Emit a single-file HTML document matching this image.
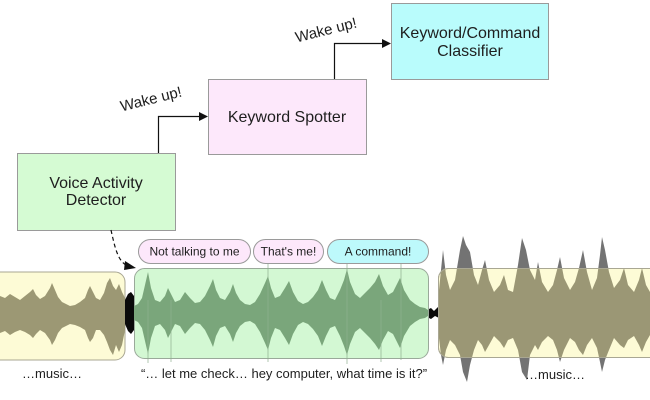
<!DOCTYPE html>
<html><head><meta charset="utf-8"><style>
html,body{margin:0;padding:0;background:#fff;}
svg{display:block;}
text{font-family:"Liberation Sans",Arial,sans-serif;fill:#1e1e1e;}
</style></head><body>
<svg width="650" height="400" viewBox="0 0 650 400" xmlns="http://www.w3.org/2000/svg">
<defs>
<clipPath id="rbox"><rect x="438" y="268" width="230" height="89" rx="10"/></clipPath>
<marker id="ah" markerWidth="10" markerHeight="10" refX="8" refY="4" orient="auto" markerUnits="userSpaceOnUse"><path d="M0,0 L9,4 L0,8 Z" fill="#111"/></marker>
</defs>

<!-- top boxes -->
<rect x="17.5" y="153.5" width="158" height="77" fill="#d5fbd3" stroke="#9a9a9a" stroke-width="1"/>
<text x="96" y="188" font-size="16" text-anchor="middle">Voice Activity</text>
<text x="96" y="205" font-size="16" text-anchor="middle">Detector</text>

<rect x="208.5" y="79.5" width="158" height="75" fill="#fde8fb" stroke="#9a9a9a" stroke-width="1"/>
<text x="287" y="122" font-size="16" text-anchor="middle">Keyword Spotter</text>

<rect x="391.5" y="3.5" width="157" height="76" fill="#b9fcfc" stroke="#9a9a9a" stroke-width="1"/>
<text x="470" y="38" font-size="16" text-anchor="middle">Keyword/Command</text>
<text x="470" y="56" font-size="16" text-anchor="middle">Classifier</text>

<!-- arrows -->
<path d="M158.5,153 V116.5 H200" fill="none" stroke="#111" stroke-width="1.2"/>
<polygon points="199,112 208,116.5 199,121" fill="#111"/>
<path d="M334.5,79 V43.5 H383" fill="none" stroke="#111" stroke-width="1.2"/>
<polygon points="382,39 391,43.5 382,48" fill="#111"/>

<text x="151" y="104" font-size="15" text-anchor="middle" transform="rotate(-14 151 99)">Wake up!</text>
<text x="326" y="35" font-size="15" text-anchor="middle" transform="rotate(-14 326 30)">Wake up!</text>

<!-- dashed arrow -->
<path d="M111,230 C115,248 118,262 128,266" fill="none" stroke="#111" stroke-width="1.2" stroke-dasharray="4,3"/>
<polygon points="125,261 136,268 124,270" fill="#111"/>

<!-- left yellow box -->
<rect x="-12" y="272" width="137" height="88" rx="10" fill="#fdfbd6" stroke="#a9a793" stroke-width="1"/>
<polygon fill="#9c9874" points="0,296 5,298 10,294 15,297 20,300 25,296 30,292 33,289 36,295 40,299 45,296 50,288 52,283 55,290 58,297 62,302 66,304 70,306 75,305 80,302 85,298 88,290 90,286 93,292 96,298 100,300 104,293 107,283 110,278 113,286 116,290 119,284 122,292 125,298 125,330 122,345 119,352 116,345 113,355 110,350 107,342 104,335 100,330 96,330 93,338 90,342 88,338 85,330 80,327 75,325 70,324 66,326 62,328 58,333 55,340 52,345 50,340 45,333 40,330 36,334 33,338 30,335 25,332 20,330 15,332 10,335 5,331 0,333"/>

<!-- black blobs -->
<path d="M125,300 L128,294 L131,292 L134,296 L136,305 L136,322 L134,330 L131,334 L128,331 L125,324 Z" fill="#0a0a0a"/>
<path d="M427,310 L431,308 L434,311 L438,307 L440,312 L439,318 L435,316 L431,319 L427,317 Z" fill="#0a0a0a"/>

<!-- green box -->
<rect x="134.5" y="268.5" width="294" height="90" rx="10" fill="#d3f8d3" stroke="#9aa99a" stroke-width="1"/>
<polygon fill="#7aa67b" points="134,306 138,304 142,298 145,285 148,272 151,288 155,300 160,302 165,296 168,288 171,294 175,302 180,300 185,292 190,298 195,303 200,302 205,296 210,286 213,279 216,290 220,298 225,300 230,292 233,284 236,293 240,300 245,304 250,305 255,302 260,294 265,283 268,276 271,288 275,298 280,296 285,288 289,281 293,292 298,301 303,304 308,302 313,297 318,290 322,280 326,290 330,298 335,300 340,290 344,280 347,269 350,282 355,294 360,298 365,293 370,288 375,282 379,274 383,286 388,295 393,292 397,284 400,278 404,290 410,300 415,304 420,307 425,308 428,310 428,316 425,318 420,319 415,322 410,326 404,336 400,348 397,342 393,334 388,331 383,340 379,350 375,344 370,338 365,333 360,328 355,332 350,344 347,355 344,346 340,336 335,326 330,328 326,336 322,346 318,336 313,329 308,324 303,322 298,325 293,334 289,345 285,338 280,330 275,328 271,338 268,350 265,343 260,332 255,324 250,321 245,322 240,326 236,333 233,342 230,334 225,326 220,328 216,336 213,347 210,340 205,330 200,324 195,323 190,328 185,334 180,326 175,324 171,332 168,338 165,330 160,324 155,326 151,338 148,354 145,341 142,328 138,322 134,320"/>
<g stroke="#8fb08f" stroke-width="1" opacity="0.7">
<line x1="148" y1="300" x2="148" y2="363"/>
<line x1="171" y1="300" x2="171" y2="362"/>
<line x1="268" y1="263" x2="268" y2="362"/>
<line x1="347" y1="263" x2="347" y2="364"/>
<line x1="381" y1="300" x2="381" y2="362"/>
<line x1="401" y1="263" x2="401" y2="360"/>
</g>

<!-- right waveform (gray outside, olive inside) -->
<polygon id="rw" fill="#5a5a5a" opacity="0.85" points="438,300 441,270 443,250 446,275 450,290 455,280 460,250 463,236 466,245 470,252 474,275 478,285 482,270 485,260 489,280 494,292 500,285 504,275 508,290 513,292 518,265 522,238 526,250 530,270 535,280 538,262 542,282 548,292 553,285 557,270 560,257 564,278 570,290 575,282 579,268 583,250 587,272 592,290 597,278 600,255 602,237 605,250 609,272 614,288 620,280 624,268 628,285 634,292 639,280 642,268 646,285 650,292 650,335 646,342 642,352 639,345 634,336 628,340 624,348 620,345 614,338 609,350 605,360 602,372 600,362 597,348 592,338 587,345 583,355 579,350 575,342 570,338 564,350 560,362 557,350 553,340 548,336 542,342 538,350 535,345 530,355 527,380 522,372 518,350 513,338 508,340 504,348 500,342 494,336 489,345 485,352 482,345 478,340 474,350 470,365 467,382 463,372 460,355 455,345 450,340 446,350 443,365 441,355 438,330"/>
<rect x="438.5" y="268.5" width="230" height="89" rx="10" fill="#fdfbd6" stroke="#a9a793" stroke-width="1"/>
<g clip-path="url(#rbox)">
<polygon fill="#9b9775" points="438,300 441,270 443,250 446,275 450,290 455,280 460,250 463,236 466,245 470,252 474,275 478,285 482,270 485,260 489,280 494,292 500,285 504,275 508,290 513,292 518,265 522,238 526,250 530,270 535,280 538,262 542,282 548,292 553,285 557,270 560,257 564,278 570,290 575,282 579,268 583,250 587,272 592,290 597,278 600,255 602,237 605,250 609,272 614,288 620,280 624,268 628,285 634,292 639,280 642,268 646,285 650,292 650,335 646,342 642,352 639,345 634,336 628,340 624,348 620,345 614,338 609,350 605,360 602,372 600,362 597,348 592,338 587,345 583,355 579,350 575,342 570,338 564,350 560,362 557,350 553,340 548,336 542,342 538,350 535,345 530,355 527,380 522,372 518,350 513,338 508,340 504,348 500,342 494,336 489,345 485,352 482,345 478,340 474,350 470,365 467,382 463,372 460,355 455,345 450,340 446,350 443,365 441,355 438,330"/>
</g>
<rect x="438.5" y="268.5" width="230" height="89" rx="10" fill="none" stroke="#a9a793" stroke-width="1"/>

<!-- bubbles -->
<rect x="138.5" y="239.5" width="112" height="24" rx="12" fill="#fde8fb" stroke="#9a9a9a" stroke-width="1"/>
<text x="194.5" y="255.5" font-size="12" text-anchor="middle">Not talking to me</text>
<rect x="253.5" y="239.5" width="70" height="24" rx="12" fill="#fde8fb" stroke="#9a9a9a" stroke-width="1"/>
<text x="288.5" y="255.5" font-size="12" text-anchor="middle">That's me!</text>
<rect x="327.5" y="239.5" width="101" height="24" rx="12" fill="#bdf9fb" stroke="#9a9a9a" stroke-width="1"/>
<text x="378" y="255.5" font-size="12" text-anchor="middle">A command!</text>

<!-- bottom labels -->
<text x="52" y="378" font-size="13" text-anchor="middle">…music…</text>
<text x="284" y="378" font-size="13" text-anchor="middle">“… let me check… hey computer, what time is it?”</text>
<text x="555" y="379" font-size="13" text-anchor="middle">…music…</text>
</svg>
</body></html>
